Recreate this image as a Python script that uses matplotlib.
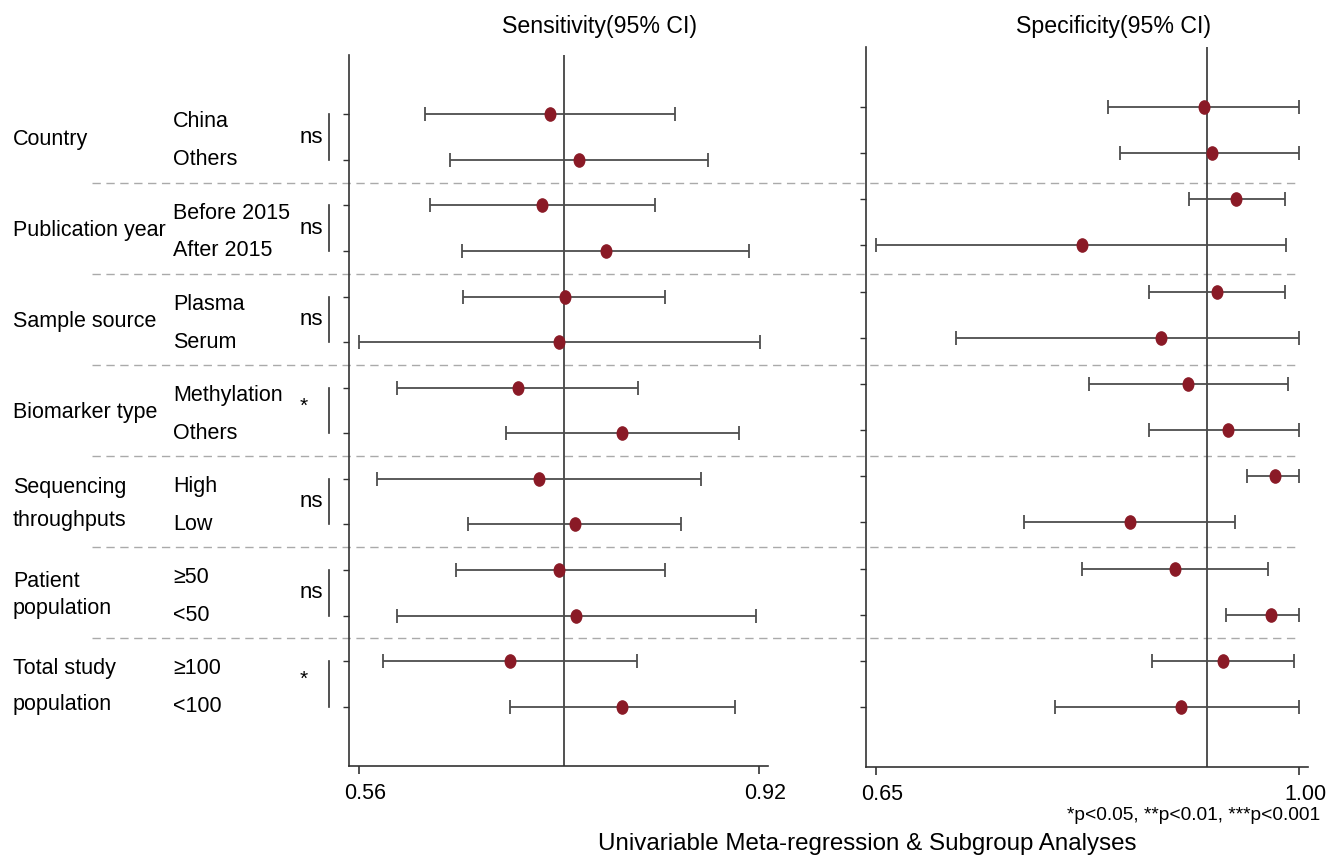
import matplotlib
matplotlib.use("Agg")
import matplotlib.pyplot as plt
import matplotlib.transforms as mtransforms
from matplotlib.lines import Line2D
from matplotlib.path import Path

plt.rcParams['font.family'] = ['Liberation Sans', 'DejaVu Sans']

groups = ["Country", "Publication year", "Sample source", "Biomarker type",
          "Sequencing\nthroughputs", "Patient\npopulation", "Total study\npopulation"]
subgroups = ["China", "Others", "Before 2015", "After 2015", "Plasma", "Serum",
             "Methylation", "Others", "High", "Low", "\u226550", "<50", "\u2265100", "<100"]
signif = ["ns", "ns", "ns", "*", "ns", "ns", "*"]

sens_est = [0.732, 0.758, 0.725, 0.782, 0.745, 0.740, 0.703, 0.797, 0.722, 0.754, 0.740, 0.755, 0.696, 0.797]
sens_lo = [0.619, 0.642, 0.624, 0.653, 0.654, 0.560, 0.594, 0.692, 0.576, 0.658, 0.647, 0.594, 0.582, 0.696]
sens_hi = [0.844, 0.874, 0.826, 0.911, 0.835, 0.921, 0.811, 0.902, 0.868, 0.850, 0.835, 0.917, 0.810, 0.898]
sens_pooled = 0.744

spec_est = [0.921, 0.928, 0.948, 0.820, 0.932, 0.886, 0.908, 0.941, 0.980, 0.860, 0.897, 0.977, 0.937, 0.902]
spec_lo = [0.842, 0.852, 0.909, 0.650, 0.876, 0.716, 0.826, 0.876, 0.957, 0.772, 0.820, 0.939, 0.878, 0.798]
spec_hi = [1.000, 1.000, 0.988, 0.989, 0.988, 1.000, 0.991, 1.000, 1.000, 0.947, 0.974, 1.000, 0.996, 1.000]
spec_pooled = 0.924

# line spacing of the two-line group names
group_spacing = [1.5, 1.5, 1.5, 1.5, 1.8, 1.4, 1.95]

W, H = 1326, 860
fig = plt.figure(figsize=(W / 100, H / 100), dpi=100)

n = len(subgroups)
ypos = [n - i for i in range(n)]

ax1 = fig.add_axes([349 / W, (H - 766) / H, 419 / W, 711 / H])
ax2 = fig.add_axes([866 / W, (H - 767) / H, 442 / W, 720 / H])
ax1.patch.set_visible(False)
ax2.patch.set_visible(False)

dark = '#333333'
bar_col = '#4d4d4d'
dot_col = '#8a1a26'

# slightly tall oval marker like the original
circ = Path.unit_circle()
oval = Path(circ.vertices * [0.8, 1.0], circ.codes)


def forest(ax, est, lo, hi, pooled, xlim, ticks):
    xerr = [[e - l for e, l in zip(est, lo)], [h - e for e, h in zip(est, hi)]]
    ax.errorbar(est, ypos, xerr=xerr, fmt='none', ecolor=bar_col, elinewidth=1.3,
                capsize=5, capthick=1.3, zorder=2)
    ax.plot(est, ypos, ls='none', marker=oval, color=dot_col, markersize=9.5, zorder=3)
    ax.axvline(pooled, color=dark, lw=1.2, zorder=1)
    ax.set_xlim(*xlim)
    ax.set_ylim(-0.3, n + 1.3)
    ax.set_xticks(ticks)
    ax.set_xticklabels([f"{t:.2f}" for t in ticks])
    ax.set_yticks(ypos)
    ax.set_yticklabels([])
    for s in ['top', 'right']:
        ax.spines[s].set_visible(False)
    for s in ['left', 'bottom']:
        ax.spines[s].set_color(dark)
        ax.spines[s].set_linewidth(1.2)
    ax.tick_params(axis='x', length=6, width=1.2, color=dark, labelsize=15.5, pad=6)
    ax.tick_params(axis='y', length=4, width=1.0, color=dark)
    offset = mtransforms.ScaledTranslation(6 / 100, 0, fig.dpi_scale_trans)
    for lab in ax.get_xticklabels():
        lab.set_transform(lab.get_transform() + offset)


forest(ax1, sens_est, sens_lo, sens_hi, sens_pooled, (0.551, 0.928), [0.56, 0.92])
forest(ax2, spec_est, spec_lo, spec_hi, spec_pooled, (0.6417, 1.0072), [0.65, 1.00])

# labels on the left, placed in figure x / left-panel y
tr = mtransforms.blended_transform_factory(fig.transFigure, ax1.transData)
for g in range(len(groups)):
    y1 = ypos[2 * g]
    y2 = ypos[2 * g + 1]
    mid = (y1 + y2) / 2
    ax1.text(13 / W, mid - 0.05, groups[g], transform=tr, ha='left', va='center',
             fontsize=15.5, linespacing=group_spacing[g], clip_on=False)
    ax1.text(173 / W, y1 - 0.17, subgroups[2 * g], transform=tr, ha='left', va='center',
             fontsize=15.5, clip_on=False)
    ax1.text(173 / W, y2, subgroups[2 * g + 1], transform=tr, ha='left', va='center',
             fontsize=15.5, clip_on=False)
    if signif[g] == "ns":
        ax1.text(323 / W, mid, "ns", transform=tr, ha='right', va='center',
                 fontsize=16, clip_on=False)
    else:
        ax1.text(304 / W, mid + 0.1, "*", transform=tr, ha='center', va='center',
                 fontsize=15, clip_on=False)
    ax1.add_line(Line2D([329 / W, 329 / W], [y1, y2], transform=tr, color=dark,
                        lw=1.2, clip_on=False))
    if g < len(groups) - 1:
        ysep = (y2 + ypos[2 * g + 2]) / 2
        ax1.add_line(Line2D([92 / W, 1300 / W], [ysep, ysep], transform=tr,
                            color='#aaaaaa', lw=1.0, ls=(0, (6, 4)), clip_on=False,
                            zorder=0.5))

fig.text(599 / W, 1 - 26 / H, "Sensitivity(95% CI)", ha='center', va='center', fontsize=16.7)
fig.text(1113 / W, 1 - 26 / H, "Specificity(95% CI)", ha='center', va='center', fontsize=16.7)
fig.text(1320 / W, 1 - 815 / H, "*p<0.05, **p<0.01, ***p<0.001", ha='right', va='center',
         fontsize=13.8)
fig.text(867 / W, 1 - 844 / H, "Univariable Meta-regression & Subgroup Analyses",
         ha='center', va='center', fontsize=17.4)

fig.savefig("out.png", dpi=100)
